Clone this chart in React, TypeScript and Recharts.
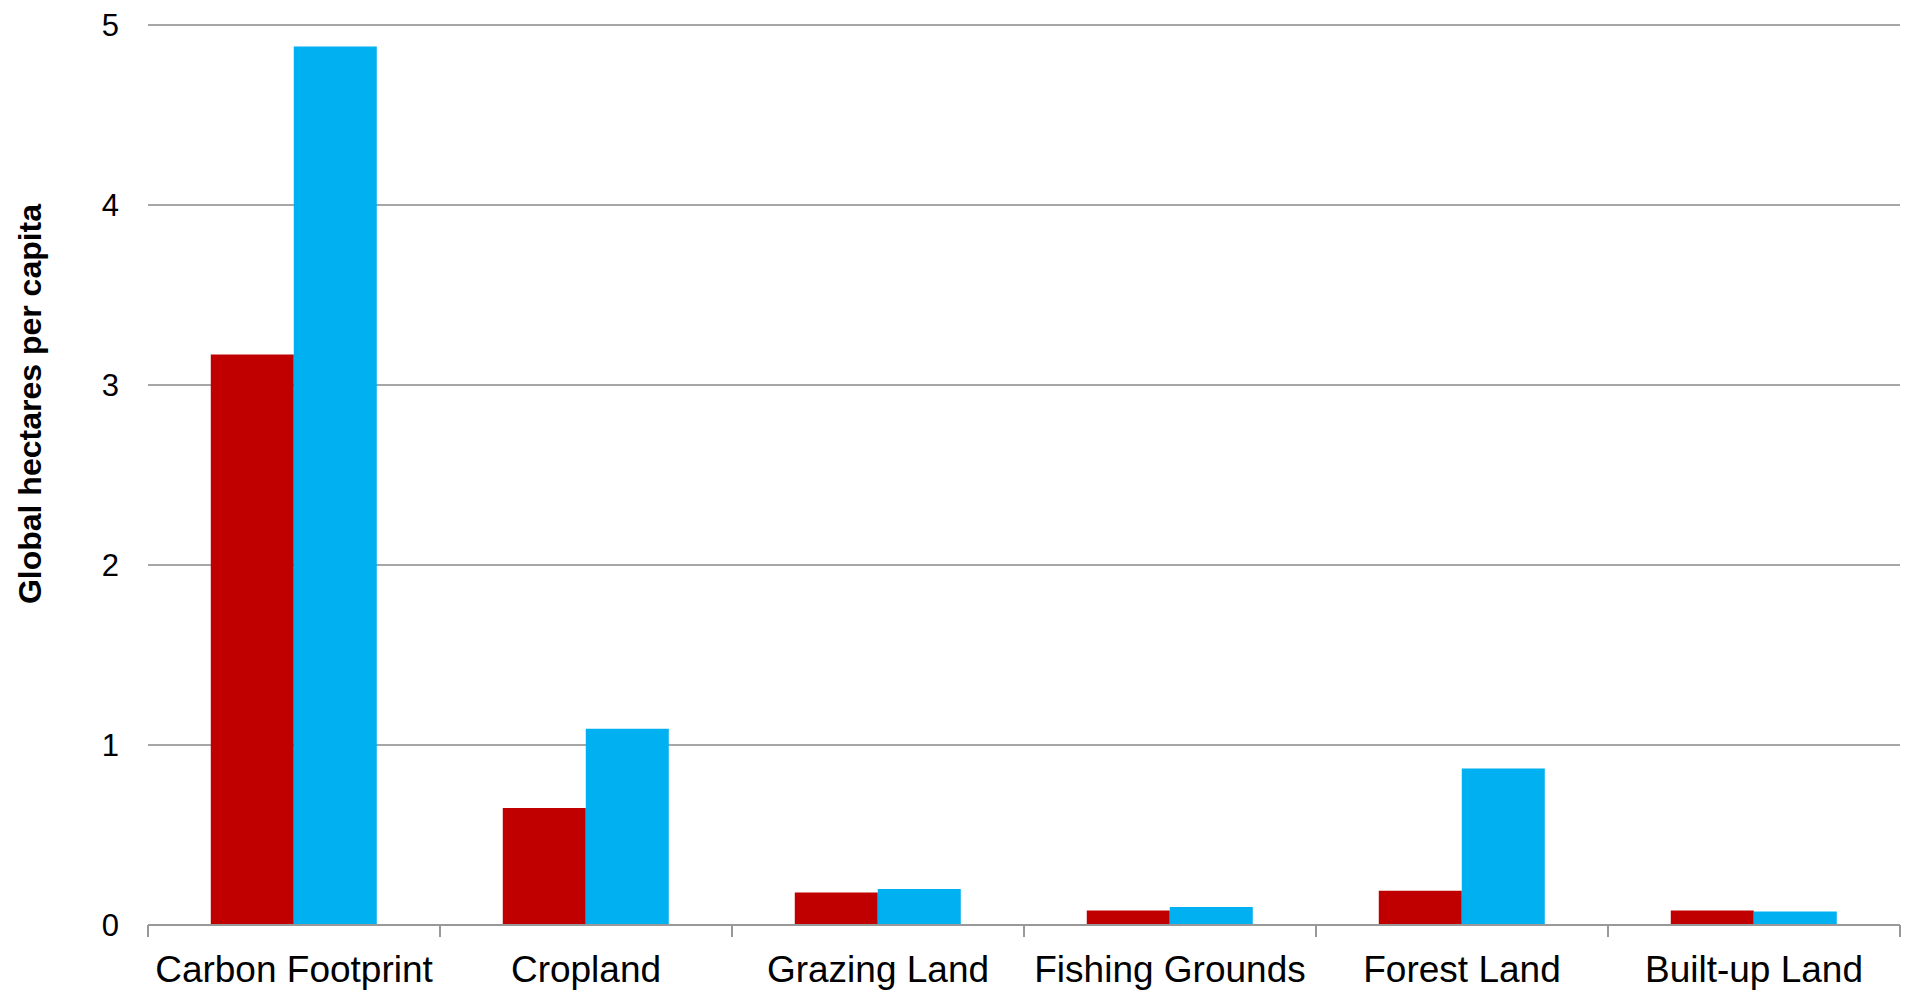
import { Bar, BarChart, CartesianGrid, XAxis, YAxis } from "recharts";

const categories = ["Carbon Footprint", "Cropland", "Grazing Land", "Fishing Grounds", "Forest Land", "Built-up Land"];
const redValues = [3.17, 0.65, 0.18, 0.08, 0.19, 0.08];
const blueValues = [4.88, 1.09, 0.2, 0.1, 0.87, 0.075];
const yTicks = [0, 1, 2, 3, 4, 5];

const data = categories.map((name, i) => ({ name, red: redValues[i], blue: blueValues[i] }));

const FONT = "'Liberation Sans', Arial, sans-serif";

function CategoryTick(props: any) {
  const { x, y, payload } = props;
  const half = payload?.offset || 146;
  return (
    <g>
      <line x1={x - half} x2={x - half} y1={y} y2={y + 12} stroke="#999" strokeWidth={2} />
      <line x1={x + half} x2={x + half} y1={y} y2={y + 12} stroke="#999" strokeWidth={2} />
      <text x={x} y={y + 57} textAnchor="middle" fontSize={37} fill="#000" fontFamily={FONT}>
        {payload.value}
      </text>
    </g>
  );
}

export default function App() {
  return (
    <div style={{ position: "absolute", left: 0, top: 0, background: "#fff" }}>
      <BarChart
        width={1913}
        height={997}
        data={data}
        margin={{ top: 25, right: 13, left: 0, bottom: 0 }}
        barCategoryGap="21.5%"
        barGap={0}
      >
        <CartesianGrid vertical={false} stroke="#A6A6A6" strokeWidth={2} />
        <XAxis
          dataKey="name"
          height={72}
          tickLine={false}
          tickSize={0}
          tickMargin={0}
          axisLine={{ stroke: "#999", strokeWidth: 2 }}
          tick={<CategoryTick />}
          interval={0}
        />
        <YAxis
          width={148}
          domain={[0, 5]}
          ticks={yTicks}
          axisLine={false}
          tickLine={false}
          tickSize={0}
          tickMargin={29}
          tick={{ fontSize: 31, fill: "#000", fontFamily: FONT }}
          label={{
            content: () => (
              <text
                x={30}
                y={404}
                transform="rotate(-90, 30, 404)"
                textAnchor="middle"
                dominantBaseline="central"
                fontSize={32}
                fontWeight="bold"
                fill="#000"
                fontFamily={FONT}
              >
                Global hectares per capita
              </text>
            ),
          }}
        />
        <Bar dataKey="red" fill="#C00000" isAnimationActive={false} />
        <Bar dataKey="blue" fill="#00B0F0" isAnimationActive={false} />
      </BarChart>
    </div>
  );
}
